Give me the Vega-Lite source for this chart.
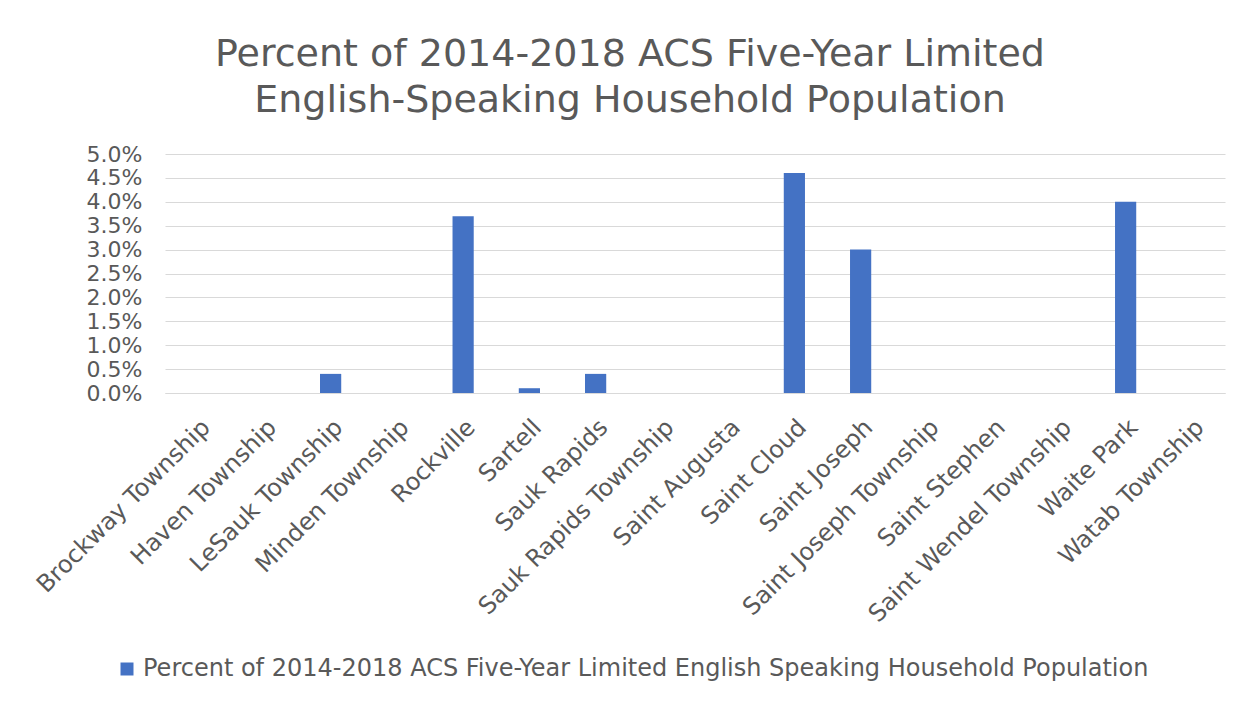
{
  "$schema": "https://vega.github.io/schema/vega-lite/v6.json",
  "width": 1060,
  "height": 239,
  "autosize": {"type": "none"},
  "padding": {"left": 165, "top": 154, "right": 19, "bottom": 309},
  "background": "white",
  "title": {
    "text": ["Percent of 2014-2018 ACS Five-Year Limited", "English-Speaking Household Population"],
    "font": "DejaVu Sans",
    "fontSize": 38,
    "fontWeight": "normal",
    "color": "#595959",
    "lineHeight": 46,
    "anchor": "middle",
    "frame": "group",
    "dx": -65,
    "offset": 23
  },
  "data": {
    "values": [
      {"place": "Brockway Township", "value": 0, "series": "Percent of 2014-2018 ACS Five-Year Limited English Speaking Household Population"},
      {"place": "Haven Township", "value": 0, "series": "Percent of 2014-2018 ACS Five-Year Limited English Speaking Household Population"},
      {"place": "LeSauk Township", "value": 0.004, "series": "Percent of 2014-2018 ACS Five-Year Limited English Speaking Household Population"},
      {"place": "Minden Township", "value": 0, "series": "Percent of 2014-2018 ACS Five-Year Limited English Speaking Household Population"},
      {"place": "Rockville", "value": 0.037, "series": "Percent of 2014-2018 ACS Five-Year Limited English Speaking Household Population"},
      {"place": "Sartell", "value": 0.001, "series": "Percent of 2014-2018 ACS Five-Year Limited English Speaking Household Population"},
      {"place": "Sauk Rapids", "value": 0.004, "series": "Percent of 2014-2018 ACS Five-Year Limited English Speaking Household Population"},
      {"place": "Sauk Rapids Township", "value": 0, "series": "Percent of 2014-2018 ACS Five-Year Limited English Speaking Household Population"},
      {"place": "Saint Augusta", "value": 0, "series": "Percent of 2014-2018 ACS Five-Year Limited English Speaking Household Population"},
      {"place": "Saint Cloud", "value": 0.046, "series": "Percent of 2014-2018 ACS Five-Year Limited English Speaking Household Population"},
      {"place": "Saint Joseph", "value": 0.03, "series": "Percent of 2014-2018 ACS Five-Year Limited English Speaking Household Population"},
      {"place": "Saint Joseph Township", "value": 0, "series": "Percent of 2014-2018 ACS Five-Year Limited English Speaking Household Population"},
      {"place": "Saint Stephen", "value": 0, "series": "Percent of 2014-2018 ACS Five-Year Limited English Speaking Household Population"},
      {"place": "Saint Wendel Township", "value": 0, "series": "Percent of 2014-2018 ACS Five-Year Limited English Speaking Household Population"},
      {"place": "Waite Park", "value": 0.04, "series": "Percent of 2014-2018 ACS Five-Year Limited English Speaking Household Population"},
      {"place": "Watab Township", "value": 0, "series": "Percent of 2014-2018 ACS Five-Year Limited English Speaking Household Population"}
    ]
  },
  "mark": {"type": "bar"},
  "encoding": {
    "x": {
      "field": "place",
      "type": "nominal",
      "sort": null,
      "scale": {"paddingInner": 0.68, "paddingOuter": 0.34},
      "axis": {
        "title": null,
        "labelAngle": -45,
        "labelPadding": 22,
        "ticks": false,
        "domain": true,
        "domainColor": "#d9d9d9",
        "labelLimit": 400,
        "labelFontSize": 24,
        "labelOverlap": false
      }
    },
    "y": {
      "field": "value",
      "type": "quantitative",
      "scale": {"domain": [0, 0.05], "nice": false},
      "axis": {
        "title": null,
        "format": ".1%",
        "values": [0, 0.005, 0.01, 0.015, 0.02, 0.025, 0.03, 0.035, 0.04, 0.045, 0.05],
        "domain": false,
        "ticks": false,
        "grid": true,
        "gridColor": "#d9d9d9",
        "labelPadding": 23,
        "labelFontSize": 22,
        "labelOverlap": false
      }
    },
    "color": {
      "field": "series",
      "type": "nominal",
      "scale": {"range": ["#4472c4"]},
      "legend": {
        "title": null,
        "orient": "none",
        "legendX": -50,
        "legendY": 503,
        "symbolType": "square",
        "symbolSize": 169,
        "symbolStrokeWidth": 0,
        "labelFontSize": 24,
        "labelLimit": 1200,
        "labelOffset": 4
      }
    }
  },
  "config": {
    "font": "DejaVu Sans",
    "view": {"stroke": null},
    "axis": {"labelFont": "DejaVu Sans", "labelColor": "#595959"},
    "legend": {"labelFont": "DejaVu Sans", "labelColor": "#595959"}
  }
}
